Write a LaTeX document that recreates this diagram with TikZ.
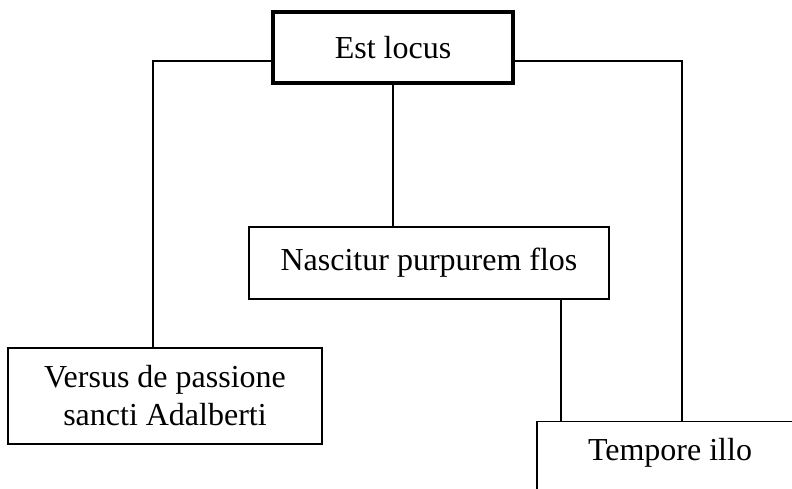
\documentclass[tikz,border=0pt]{standalone}
\usepackage{fontspec}
\setmainfont{Liberation Serif}

\begin{document}
\begin{tikzpicture}[x=1pt, y=-1pt,
    block/.style ={rectangle, draw, line width=1.4pt, inner sep=0pt, align=center,
                   font=\fontsize{32}{38}\selectfont},
    title/.style ={block, line width=3.6pt}]
   \useasboundingbox (0,0) rectangle (792,488);
   \clip (0,0) rectangle (792,488);
   \node[title, minimum width=240, minimum height=71] (Est) at (393,47.5) {Est locus};
   \node[block, minimum width=360, minimum height=72] (Nasc) at (429,263) {Nascitur purpurem flos};
   \node[block, minimum width=314, minimum height=96] (Vers) at (165,396) {Versus de passione\\sancti Adalberti};
   \node[block, minimum width=266, text height=39pt, text depth=40pt, anchor=north] (Temp) at (670,421) {Tempore illo};
   \coordinate (L) at (153,61);
   \coordinate (R) at (682,61);
   \draw[line width=1.4pt] (Est.west |- L) -- (L) -- (Vers.north -| L);
   \draw[line width=1.4pt] (Est.east |- R) -- (R) -- (Temp.north -| R);
   \draw[line width=1.4pt] (Est.south) -- (Nasc.north -| Est.south);
   \draw[line width=1.4pt] (Nasc.south -| 561,0) -- (Temp.north -| 561,0);
\end{tikzpicture}
\end{document}
